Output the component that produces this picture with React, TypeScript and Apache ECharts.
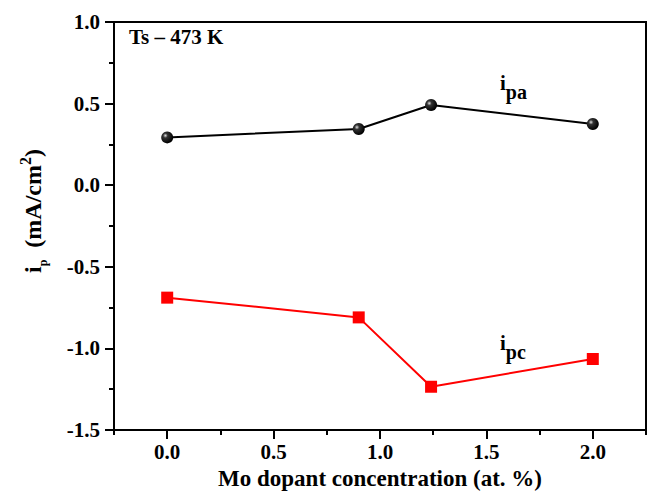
import React, { useEffect, useRef } from "react";
import * as echarts from "echarts";

const concentration = [0.0, 0.9, 1.24, 2.0];
const ipa = [0.293, 0.344, 0.491, 0.375];
const ipc = [-0.689, -0.81, -1.235, -1.065];
const xMajor = [0, 0.5, 1.0, 1.5, 2.0];
const xMinor = [-0.25, 0.25, 0.75, 1.25, 1.75, 2.25];
const yMajor = [-1.5, -1.0, -0.5, 0, 0.5, 1.0];
const yMinor = [-1.25, -0.75, -0.25, 0.25, 0.75];
const xTitle = "Mo dopant concentration (at. %)";
const tempLabel = "Ts \u2013 473 K";

const FONT = "Liberation Serif";

export default function App() {
  const ref = useRef<HTMLDivElement>(null);
  useEffect(() => {
    if (!ref.current) return;
    const chart = echarts.init(ref.current, undefined, { renderer: "svg" });
    const sphere = new echarts.graphic.RadialGradient(0.35, 0.35, 0.65, [
      { offset: 0, color: "#e0e0e0" },
      { offset: 0.3, color: "#333" },
      { offset: 1, color: "#000" },
    ]);
    const labelStyle = { fontFamily: FONT, fontWeight: "bold" as const, fontSize: 21, color: "#000" };
    const fmt = (v: number) => v.toFixed(1);
    const xRange = { type: "value" as const, min: -0.25, max: 2.25 };
    const yRange = { type: "value" as const, min: -1.5, max: 1.0 };
    chart.setOption({
      animation: false,
      backgroundColor: "#fff",
      grid: { left: 114, right: 3, top: 22, bottom: 68, show: true, borderColor: "#000", borderWidth: 2 },
      xAxis: [
        {
          ...xRange,
          name: xTitle,
          nameLocation: "middle",
          nameGap: 37,
          nameTextStyle: { fontFamily: FONT, fontWeight: "bold", fontSize: 23, color: "#000" },
          axisLine: { onZero: false, lineStyle: { color: "#000", width: 2 } },
          axisTick: { show: true, customValues: xMajor, length: 9, lineStyle: { width: 2, color: "#000" } },
          splitLine: { show: false },
          axisLabel: { ...labelStyle, margin: 11, customValues: xMajor, formatter: fmt },
        },
        {
          ...xRange,
          position: "bottom",
          axisLine: { show: false, onZero: false },
          axisTick: { show: true, customValues: xMinor, length: 5, lineStyle: { width: 2, color: "#000" } },
          axisLabel: { show: false },
          splitLine: { show: false },
        },
      ],
      yAxis: [
        {
          ...yRange,
          axisLine: { show: true, onZero: false, lineStyle: { color: "#000", width: 2 } },
          axisTick: { show: true, customValues: yMajor, length: 9, lineStyle: { width: 2, color: "#000" } },
          splitLine: { show: false },
          axisLabel: { ...labelStyle, margin: 14, customValues: yMajor, formatter: fmt },
        },
        {
          ...yRange,
          position: "left",
          axisLine: { show: false, onZero: false },
          axisTick: { show: true, customValues: yMinor, length: 5, lineStyle: { width: 2, color: "#000" } },
          axisLabel: { show: false },
          splitLine: { show: false },
        },
      ],
      series: [
        {
          type: "line",
          data: concentration.map((c, i) => [c, ipa[i]]),
          symbol: "circle",
          symbolSize: 12,
          lineStyle: { color: "#000", width: 2 },
          itemStyle: { color: sphere },
          z: 3,
        },
        {
          type: "line",
          data: concentration.map((c, i) => [c, ipc[i]]),
          symbol: "rect",
          symbolSize: 12,
          lineStyle: { color: "#ff0000", width: 2 },
          itemStyle: { color: "#ff0000" },
          z: 3,
        },
      ],
      graphic: [
        {
          type: "text",
          x: 129,
          y: 26,
          style: { text: tempLabel, font: `bold 21px ${FONT}`, fill: "#000" },
        },
        {
          type: "text",
          x: 500,
          y: 72,
          style: {
            text: "{m|i}{s|pa}",
            rich: {
              m: { fontFamily: FONT, fontWeight: "bold", fontSize: 21, fill: "#000", lineHeight: 24, verticalAlign: "top" },
              s: { fontFamily: FONT, fontWeight: "bold", fontSize: 20, fill: "#000", lineHeight: 30, verticalAlign: "bottom" },
            },
          },
        },
        {
          type: "text",
          x: 500,
          y: 332,
          style: {
            text: "{m|i}{s|pc}",
            rich: {
              m: { fontFamily: FONT, fontWeight: "bold", fontSize: 21, fill: "#000", lineHeight: 24, verticalAlign: "top" },
              s: { fontFamily: FONT, fontWeight: "bold", fontSize: 20, fill: "#000", lineHeight: 30, verticalAlign: "bottom" },
            },
          },
        },
        {
          type: "text",
          x: 33,
          y: 211,
          rotation: Math.PI / 2,
          style: {
            text: "{m|i}{s|p}{m|  (mA/cm}{t|2}{m|)}",
            align: "center",
            verticalAlign: "middle",
            rich: {
              m: { fontFamily: FONT, fontWeight: "bold", fontSize: 24, fill: "#000", lineHeight: 32, verticalAlign: "middle" },
              s: { fontFamily: FONT, fontWeight: "bold", fontSize: 12, fill: "#000", lineHeight: 32, verticalAlign: "bottom" },
              t: { fontFamily: FONT, fontWeight: "bold", fontSize: 16, fill: "#000", lineHeight: 32, verticalAlign: "top" },
            },
          },
        },
      ],
    });
    return () => chart.dispose();
  }, []);
  return <div ref={ref} style={{ position: "fixed", left: 0, top: 0, width: 649, height: 498 }} />;
}
